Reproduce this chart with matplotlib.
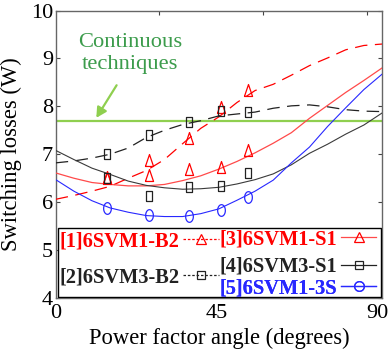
import matplotlib
matplotlib.use("Agg")
import matplotlib.pyplot as plt
from matplotlib.lines import Line2D
from matplotlib.patches import Rectangle
import numpy as np

plt.rcParams['font.family'] = ['Liberation Serif', 'DejaVu Serif']

# ---- data ----
curve_x = [0, 5, 10, 15, 20, 25, 30, 35, 40, 45, 50, 55, 60, 65, 70, 75, 80, 85, 90]
sim_svm1_b2 = [6.06, 6.14, 6.23, 6.33, 6.50, 6.66, 6.89, 7.22, 7.54, 7.78, 8.08, 8.33, 8.46, 8.65, 8.85, 9.01, 9.18, 9.27, 9.30]
sim_svm3_b2 = [6.82, 6.86, 6.92, 7.00, 7.13, 7.35, 7.50, 7.62, 7.70, 7.80, 7.84, 7.88, 7.96, 8.01, 8.03, 7.99, 7.93, 7.90, 7.89]
sim_svm1_s1 = [6.61, 6.50, 6.41, 6.37, 6.34, 6.34, 6.37, 6.45, 6.55, 6.69, 6.85, 7.03, 7.23, 7.45, 7.75, 8.02, 8.29, 8.54, 8.80]
sim_svm3_s1 = [7.08, 6.89, 6.71, 6.58, 6.44, 6.35, 6.30, 6.27, 6.28, 6.31, 6.38, 6.47, 6.59, 6.78, 7.02, 7.21, 7.42, 7.61, 7.86]
sim_svm1_3s = [6.47, 6.23, 6.03, 5.88, 5.79, 5.72, 5.70, 5.70, 5.76, 5.86, 6.04, 6.23, 6.46, 6.82, 7.15, 7.58, 7.97, 8.35, 8.67]

meas_x = [14.07, 25.84, 36.87, 45.57, 53.13]
meas_svm1_b2 = [6.52, 6.89, 7.33, 7.99, 8.34]
meas_svm3_b2 = [7.00, 7.40, 7.67, 7.91, 7.89]
meas_svm1_s1 = [6.50, 6.57, 6.69, 6.73, 7.09]
meas_svm3_s1 = [6.50, 6.13, 6.31, 6.34, 6.61]
meas_svm1_3s = [5.87, 5.73, 5.71, 5.83, 6.11]

continuous_level = 7.7

labels = ['[1]6SVM1-B2', '[2]6SVM3-B2', '[3]6SVM1-S1', '[4]6SVM3-S1', '[5]6SVM1-3S']
xtick_pos = [0, 44.4, 88.6]
xtick_labels = ['0', '45', '90']
xminor = [28.6, 57.2, 85.8]
yticks = [4, 5, 6, 7, 8, 9, 10]

RED = '#ff0000'
RED_L = '#ff4a4a'
BLK = '#222222'
GRY = '#3a3a3a'
BLUE = '#2828ff'
GREEN = '#8fcf4f'
GREEN_T = '#3c9c4c'

tri = [(-0.34, -0.5), (0.34, -0.5), (0.0, 0.5), (-0.34, -0.5)]
sq = [(-0.3, -0.5), (0.3, -0.5), (0.3, 0.5), (-0.3, 0.5), (-0.3, -0.5)]
th = np.linspace(0, 2 * np.pi, 40)
ell = list(zip(0.33 * np.cos(th), 0.5 * np.sin(th)))

fig = plt.figure(figsize=(3.88, 3.5), dpi=100)
ax = fig.add_axes([55.7 / 388, 1 - 298 / 350, (382 - 55.7) / 388, (298 - 10.5) / 350])

ax.axhline(continuous_level, color=GREEN, lw=1.6, zorder=2)

dash = (0, (10, 6))
ax.plot(curve_x, sim_svm1_b2, color=RED, lw=0.9, ls=dash, zorder=3)
ax.plot(curve_x, sim_svm3_b2, color=BLK, lw=0.9, ls=dash, zorder=3)
ax.plot(curve_x, sim_svm1_s1, color=RED_L, lw=0.9, zorder=3)
ax.plot(curve_x, sim_svm3_s1, color=GRY, lw=0.8, zorder=3)
ax.plot(curve_x, sim_svm1_3s, color=BLUE, lw=0.8, zorder=3)

mk = dict(ls='none', mfc='none', mew=0.9, zorder=4)
ax.plot(meas_x, meas_svm1_b2, marker=tri, ms=8.6, mec=RED, **mk)
ax.plot(meas_x, meas_svm3_b2, marker=sq, ms=7.4, mec=BLK, **mk)
ax.plot(meas_x, meas_svm1_s1, marker=tri, ms=8.6, mec=RED, **mk)
ax.plot(meas_x, meas_svm3_s1, marker=sq, ms=7.4, mec=BLK, **mk)
ax.plot(meas_x, meas_svm1_3s, marker=ell, ms=8.4, mec=BLUE, **mk)

ax.text(20.5, 9.1, 'Continuous\ntechniques', color=GREEN_T, fontsize=16.2,
        ha='center', va='center', linespacing=1.2)
ax.annotate('', xy=(11.2, 7.76), xytext=(16.8, 8.44),
            arrowprops=dict(arrowstyle='-|>,head_length=0.6,head_width=0.32',
                            color=GREEN, lw=1.6, shrinkA=0, shrinkB=0))

ax.set_xlim(0, 90)
ax.set_ylim(4, 10)
ax.set_xticks(xtick_pos)
ax.set_xticklabels(xtick_labels)
ax.set_xticks(xminor, minor=True)
ax.set_yticks(yticks)
ax.tick_params(axis='x', which='major', length=0, pad=4, labelsize=16)
ax.tick_params(axis='x', which='minor', direction='in', length=3, top=True, bottom=True,
               color='#444444', width=0.8)
ax.tick_params(axis='y', which='major', direction='in', length=3, left=True, right=True,
               labelsize=16, pad=2, color='#444444', width=0.8)
for s in ax.spines.values():
    s.set_color('#666666')
    s.set_linewidth(1.0)

ax.set_xlabel('Power factor angle (degrees)', fontsize=16.3, labelpad=4)
ax.set_ylabel('Switching losses (W)', fontsize=16.3, labelpad=6)

# legend frame
ax.add_patch(Rectangle((0.008, 0.0045), 0.989, 0.24, transform=ax.transAxes,
                       facecolor='white', edgecolor='black', lw=1.0, zorder=5))

hdl = [
    Line2D([], [], color=RED, lw=0.9, ls=(0, (2, 1.5)), marker='^', ms=7, mfc='none', mec=RED, mew=0.9),
    Line2D([], [], color=BLK, lw=0.9, ls=(0, (2, 1.5)), marker='s', ms=6, mfc='none', mec=BLK, mew=0.9),
    Line2D([], [], color=RED_L, lw=0.9, marker='^', ms=7, mfc='none', mec=RED, mew=0.9),
    Line2D([], [], color=BLK, lw=0.9, marker='s', ms=6, mfc='none', mec=BLK, mew=0.9),
    Line2D([], [], color=BLUE, lw=0.9, marker='o', ms=7, mfc='none', mec=BLUE, mew=0.9),
]
tcol = [RED, BLK, RED, BLK, BLUE]
pos = [(0.013, 0.198), (0.013, 0.073), (0.5035, 0.204), (0.5035, 0.109), (0.5035, 0.034)]
prop = {'family': 'Liberation Serif', 'weight': 'bold', 'size': 14.7}
for h, lab, c, p in zip(hdl, labels, tcol, pos):
    leg = ax.legend([h], [lab], loc='center left', bbox_to_anchor=p, frameon=False,
                    markerfirst=False, handlelength=1.75, handletextpad=0.15,
                    borderpad=0, borderaxespad=0, prop=prop, labelcolor=c)
    leg.set_zorder(6)
    ax.add_artist(leg)

fig.savefig('out.png', dpi=100)
